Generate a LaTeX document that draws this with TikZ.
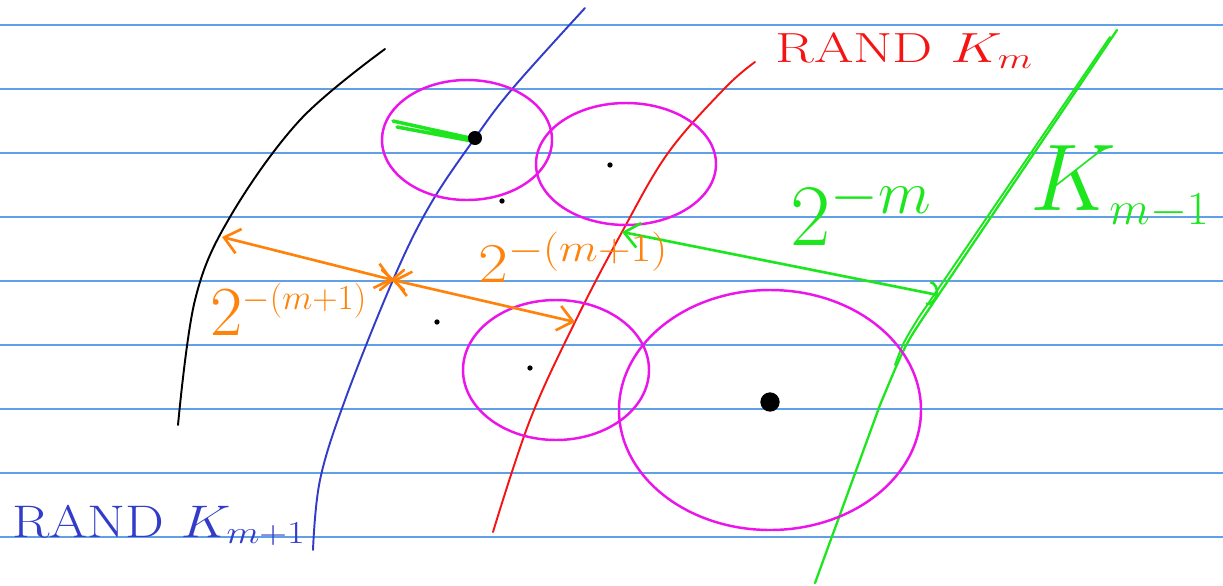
\RequirePackage{fix-cm}
\documentclass[tikz,border=0pt]{standalone}
\usepackage{xcolor}
\usepackage{tikz}
\usetikzlibrary{arrows.meta}

\definecolor{ruleblue}{RGB}{95,160,230}
\definecolor{penblue}{RGB}{50,60,200}
\definecolor{penred}{RGB}{245,20,20}
\definecolor{pengreen}{RGB}{30,230,30}
\definecolor{penmag}{RGB}{235,20,235}
\definecolor{penorange}{RGB}{255,130,10}

\begin{document}
\begin{tikzpicture}[
  x=0.02cm, y=-0.02cm,
  rule/.style={ruleblue, line width=0.8pt},
  pen/.style={line width=1.1pt, line cap=round, line join=round},
  ring/.style={pen, penmag, line width=1.4pt},
  dot/.style={circle, fill=black, inner sep=0pt, minimum size=#1},
  span/.style={pen, line width=1.5pt, {Straight Barb[length=3mm,width=5mm]}-{Straight Barb[length=3mm,width=5mm]}},
  lbl/.style={inner sep=0pt, anchor=base west}
]
\useasboundingbox (0,0) rectangle (1223,585);

% ruled paper
\foreach \yy in {25,89,...,537}
  \draw[rule] (0,\yy) -- (1223,\yy);

% the curves
\draw[pen, black] plot[smooth, tension=0.6] coordinates {(385,49) (300,120) (230,217) (195,300) (178,425)};
\draw[pen, penblue] plot[smooth, tension=0.6] coordinates {(585,8) (513,88) (475,138) (430,205) (393,280) (345,400) (320,480) (313,550)};
\draw[pen, penred] plot[smooth, tension=0.6] coordinates {(755,62) (725,88) (668,153) (622,232) (575,322) (530,420) (493,532)};
\draw[pen, pengreen, line width=1.3pt] (1117,30) -- (925,315) .. controls (905,345) .. (880,405) -- (815,583);
\draw[pen, pengreen] (1110,37) -- (919,317) .. controls (903,343) .. (895,365);

% circles
\draw[ring] (467,140) ellipse [x radius=85, y radius=60];
\draw[ring] (626,164) ellipse [x radius=90, y radius=61];
\draw[ring] (556,370) ellipse [x radius=93, y radius=70];
\draw[ring] (770,410) ellipse [x radius=151, y radius=120];

% centres
\draw[pen, pengreen, line width=2pt] (393,121) -- (470,138) (397,127) -- (472,141);
\node[dot=8pt] (c1) at (475,138) {};
\node[dot=3pt] (c2) at (610,165) {};
\node[dot=3pt] (c3) at (502,201) {};
\node[dot=3pt] (c4) at (437,322) {};
\node[dot=3pt] (c5) at (530,368) {};
\node[dot=11pt] (c6) at (770,402) {};

% hits on the curves
\coordinate (hitK) at (222,237);
\coordinate (hitB) at (393,280);
\coordinate (hitR) at (575,322);
\coordinate (hitRtop) at (622,232);
\coordinate (hitG) at (938,295);

% distances
\draw[span, penorange] (hitK) -- (hitB);
\draw[span, penorange] (hitB) -- (hitR);
\draw[pen, penorange, line width=1.5pt] (382,270) -- (404,290) (380,290) -- (404,270);
\draw[pen, pengreen, line width=1.5pt, {Straight Barb[length=3mm,width=5mm]}-{Arc Barb[length=2mm,width=5mm]}] (hitRtop) -- (hitG);

% labels
\node[lbl, penred, font=\fontsize{24}{28}\selectfont] (lblKm) at (775,62) {\scalebox{1.35}[1]{RAND $K_m$}};
\node[lbl, penblue, font=\fontsize{26}{30}\selectfont] (lblKm1) at (12,537) {\scalebox{1.2}[1]{RAND $K_{m+1}$}};
\node[lbl, pengreen, font=\fontsize{54}{60}\selectfont] (lblKm0) at (1030,210) {$K_{\scriptscriptstyle m-1}$};
\node[lbl, pengreen, font=\fontsize{50}{56}\selectfont] (lblG) at (790,245) {$2^{-m}$};
\node[lbl, penorange, font=\fontsize{32}{36}\selectfont] (lblOR) at (478,282) {\scalebox{1.15}[1]{$2^{-(m+1)}$}};
\node[lbl, penorange, font=\fontsize{40}{44}\selectfont] (lblOL) at (210,335) {$2^{\scriptscriptstyle -(m+1)}$};
\end{tikzpicture}
\end{document}
